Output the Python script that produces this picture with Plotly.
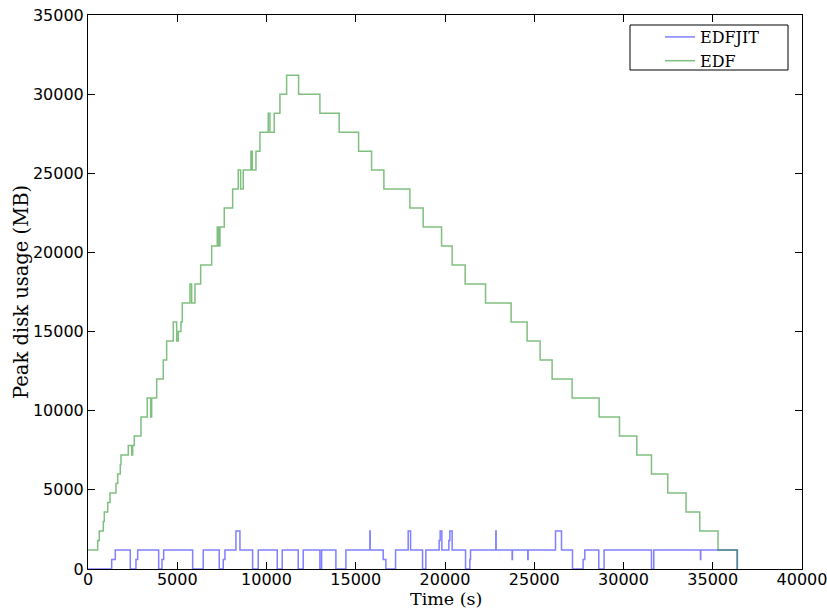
import plotly.graph_objects as go

# EDF series (step, value holds until next time)
edf_t = [0, 543, 633, 857, 913, 1103, 1232, 1568, 1663, 1809, 1848, 2257, 2447, 2503, 2593,
         2968, 3321, 3511, 3567, 3847, 4217, 4407, 4777, 4967, 5057, 5208, 5281, 5712, 5807,
         5992, 6311, 6927, 7241, 7319, 7392, 7633, 8103, 8417, 8551, 8697, 9128, 9201, 9408,
         9632, 10097, 10192, 10433, 10752, 11127, 11799, 12992, 14073, 15159, 15887, 16576,
         18032, 18777, 19807, 20401, 21129, 22271, 23705, 24601, 25329, 26001, 27121, 28633,
         29775, 30744, 31567, 32480, 33505, 34272, 35297, 36383]
edf_v = [1200, 1800, 2400, 3000, 3600, 4200, 4800, 5400, 6000, 6600, 7200, 7800, 7200, 7800, 8400,
         9600, 10800, 9600, 10800, 12000, 13200, 14400, 15600, 14400, 15000, 15600, 16800, 18000, 16800,
         18000, 19200, 20400, 21600, 20400, 21600, 22800, 24000, 25200, 24000, 25200, 26400, 25200, 26400,
         27600, 28800, 27600, 28800, 30000, 31200, 30000, 28800, 27600, 26400, 25200, 24000,
         22800, 21600, 20400, 19200, 18000, 16800, 15600, 14400, 13200, 12000, 10800, 9600,
         8400, 7200, 6000, 4800, 3600, 2400, 1200, 0]

# EDFJIT series
jit_t = [0, 1327, 1529, 2369, 2688, 2783, 3959, 4144, 4239, 5863, 6457, 7353, 7577, 7672, 8288,
         8512, 9223, 9537, 10601, 10881, 11777, 12057, 12992, 13087, 13888, 14448, 15792, 15809,
         16537, 16688, 17231, 17937, 18071, 18743, 18928, 19673, 19729, 19824, 20216, 20272,
         20401, 21151, 21392, 21431, 22848, 22865, 23761, 23778, 24640, 24657, 26191, 26527,
         27143, 27737, 27832, 28616, 28913, 31567, 31696, 34311, 34328, 36361]
jit_v = [0, 600, 1200, 0, 600, 1200, 0, 600, 1200, 0, 1200, 0, 600, 1200, 2400,
         1200, 0, 1200, 0, 1200, 0, 1200, 0, 1200, 0, 1200, 2400, 1200,
         600, 0, 1200, 2400, 1200, 0, 1200, 1800, 2400, 1200, 1800, 2400,
         1200, 0, 600, 1200, 2400, 1200, 600, 1200, 600, 1200, 2400, 1200,
         0, 600, 1200, 0, 1200, 0, 1200, 600, 1200, 0]

x_ticks = [0, 5000, 10000, 15000, 20000, 25000, 30000, 35000, 40000]
y_ticks = [0, 5000, 10000, 15000, 20000, 25000, 30000, 35000]

fig = go.Figure()
fig.add_trace(go.Scatter(x=jit_t, y=jit_v, mode="lines", name="EDFJIT",
                         line=dict(color="rgba(0,0,255,0.5)", width=1.5, shape="hv")))
fig.add_trace(go.Scatter(x=edf_t, y=edf_v, mode="lines", name="EDF",
                         line=dict(color="rgba(0,128,0,0.5)", width=1.5, shape="hv")))

axis_common = dict(showgrid=False, zeroline=False, showline=True, linecolor="black", linewidth=1,
                   mirror="allticks", ticks="inside", ticklen=7, tickwidth=1, tickcolor="black",
                   automargin=False, ticklabeloverflow="allow",
                   tickfont=dict(family="DejaVu Sans", size=16, color="black"))

fig.update_layout(
    width=827, height=610,
    margin=dict(l=88, r=25, t=15, b=41),
    plot_bgcolor="white", paper_bgcolor="white",
    showlegend=True,
    legend=dict(x=(660 - 88) / 714, y=(569 - 20) / 554, xanchor="left", yanchor="top",
                borderwidth=0, bgcolor="rgba(0,0,0,0)",
                font=dict(family="DejaVu Serif", size=16, color="black"),
                tracegroupgap=0),
    shapes=[dict(type="rect", xref="paper", yref="paper",
                 x0=(630 - 88) / 714, x1=(788 - 88) / 714,
                 y0=(569 - 70) / 554, y1=(569 - 25) / 554,
                 line=dict(color="black", width=1), fillcolor="white", layer="below")],
    annotations=[
        dict(text="Time (s)", xref="paper", yref="paper", x=(446 - 88) / 714, y=(569 - 610) / 554,
             xanchor="center", yanchor="bottom", showarrow=False, borderpad=0,
             font=dict(family="DejaVu Serif", size=17.5, color="black")),
        dict(text="Peak disk usage (MB)", xref="paper", yref="paper", x=(21 - 88) / 714, y=0.5,
             xanchor="center", yanchor="middle", textangle=-90, showarrow=False,
             font=dict(family="DejaVu Serif", size=19.5, color="black")),
    ],
    xaxis=dict(range=[0, 40000], tickvals=x_ticks, ticktext=[str(v) for v in x_ticks],
               ticklabelstandoff=-4, **axis_common),
    yaxis=dict(range=[0, 35000], tickvals=y_ticks, ticktext=[str(v) for v in y_ticks],
               **axis_common),
)

fig.write_html("out.html")
